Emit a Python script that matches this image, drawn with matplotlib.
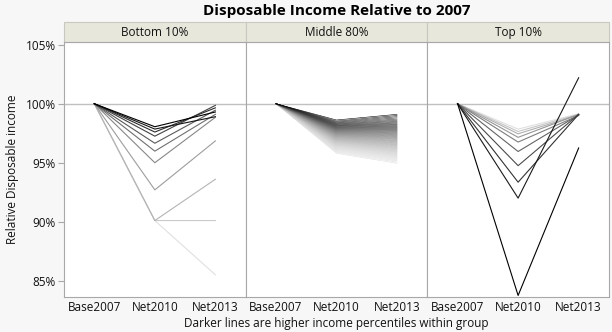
import matplotlib.pyplot as plt
import matplotlib.patches as mpatches

# categories along x in each panel
years = ['Base2007', 'Net2010', 'Net2013']
groups = ['Bottom 10%', 'Middle 80%', 'Top 10%']

# Bottom 10% (lightest -> darkest)
bottom_2010 = [90.1, 90.1, 90.1, 92.7, 95.0, 95.98, 96.65, 97.25, 97.6, 97.85, 98.05]
bottom_2013 = [85.5, 90.1, 93.6, 96.85, 98.85, 99.1, 99.45, 99.86, 99.65, 98.9, 99.3]

# Middle 80% (lightest -> darkest)
middle_2010 = [95.80, 95.88, 95.95, 96.02, 96.08, 96.14, 96.20, 96.25, 96.30, 96.35,
               96.40, 96.45, 96.49, 96.53, 96.57, 96.61, 96.65, 96.69, 96.72, 96.76,
               96.79, 96.83, 96.86, 96.89, 96.92, 96.95, 96.98, 97.01, 97.04, 97.07,
               97.10, 97.13, 97.15, 97.18, 97.21, 97.24, 97.26, 97.29, 97.32, 97.34,
               97.37, 97.40, 97.42, 97.45, 97.47, 97.50, 97.52, 97.55, 97.57, 97.60,
               97.62, 97.65, 97.67, 97.70, 97.72, 97.75, 97.77, 97.80, 97.82, 97.85,
               97.87, 97.90, 97.92, 97.95, 97.98, 98.00, 98.03, 98.06, 98.09, 98.12,
               98.15, 98.18, 98.22, 98.26, 98.30, 98.35, 98.40, 98.46, 98.53, 98.62]
middle_2013 = [94.95, 95.05, 95.14, 95.22, 95.30, 95.37, 95.44, 95.51, 95.57, 95.63,
               95.69, 95.75, 95.80, 95.86, 95.91, 95.96, 96.01, 96.06, 96.11, 96.16,
               96.20, 96.25, 96.30, 96.34, 96.39, 96.43, 96.48, 96.52, 96.56, 96.61,
               96.65, 96.69, 96.74, 96.78, 96.82, 96.86, 96.90, 96.95, 96.99, 97.03,
               97.07, 97.11, 97.15, 97.19, 97.23, 97.27, 97.31, 97.35, 97.39, 97.43,
               97.47, 97.51, 97.55, 97.59, 97.63, 97.67, 97.71, 97.75, 97.79, 97.83,
               97.87, 97.91, 97.95, 97.99, 98.03, 98.08, 98.12, 98.17, 98.22, 98.27,
               98.33, 98.39, 98.46, 98.53, 98.61, 98.70, 98.80, 98.90, 99.00, 99.10]

# Top 10% (lightest -> darkest)
top_2010 = [97.85, 97.65, 97.45, 97.15, 96.75, 95.95, 94.75, 93.35, 92.0, 83.75]
top_2013 = [99.15, 99.1, 99.05, 99.1, 99.0, 99.05, 99.1, 99.1, 102.2, 96.25]

base = 100.0
yticks = [85, 90, 95, 100, 105]

plt.rcParams['font.family'] = ['Open Sans', 'DejaVu Sans']

fig = plt.figure(figsize=(6.12, 3.32), dpi=100, facecolor='#f7f7f7')
gs = fig.add_gridspec(1, 3, left=0.1046, right=0.995, bottom=0.1054, top=0.8735, wspace=0)
axes = [fig.add_subplot(gs[0, i]) for i in range(3)]

data = [(bottom_2010, bottom_2013), (middle_2010, middle_2013), (top_2010, top_2013)]
widths = [0.8, 0.4, 0.8]
gammas = [1.0, 0.55, 1.0]
edge = '#a8a8a8'

for ax, name, (y10, y13), lw, g in zip(axes, groups, data, widths, gammas):
    n = len(y10)
    ax.axhline(100, color='#c0c0c0', lw=1, zorder=1)
    for i in range(n):
        # light gray for low percentiles, black for high ones
        shade = 0.88 * (1 - i / (n - 1)) ** g
        ax.plot([0, 1, 2], [base, y10[i], y13[i]], color=str(shade), lw=lw, zorder=2)
    ax.set_xlim(-0.5, 2.5)
    ax.set_ylim(83.62, 105.23)
    ax.set_xticks([0, 1, 2])
    ax.set_xticklabels(years, fontsize=8.5, color='#111111')
    ax.tick_params(axis='x', length=0, pad=3)
    for s in ax.spines.values():
        s.set_color(edge)
        s.set_linewidth(0.8)
    ax.set_facecolor('white')
    # header strip
    strip = mpatches.Rectangle((0, 1), 1, 0.0784, transform=ax.transAxes, clip_on=False,
                               facecolor='#e8e7dc', edgecolor='#c8c8c0', lw=0.8)
    ax.add_patch(strip)
    ax.text(0.5, 1.039, name, transform=ax.transAxes, ha='center', va='center',
            fontsize=8.5, color='#111111')

axes[0].set_yticks(yticks)
axes[0].set_yticklabels([f'{v}%' for v in yticks], fontsize=8.5, color='#111111')
axes[0].tick_params(axis='y', length=4, color=edge, pad=2)
axes[0].set_ylabel('Relative Disposable income', fontsize=8.5, color='#111111', labelpad=5)
for ax in axes[1:]:
    ax.set_yticks([])

fig.text(0.55, 0.968, 'Disposable Income Relative to 2007', ha='center', va='center',
         fontsize=11, fontweight='bold', color='#000000')
fig.text(0.55, 0.027, 'Darker lines are higher income percentiles within group',
         ha='center', va='center', fontsize=8.5, color='#111111')

fig.savefig('out.png', dpi=100, facecolor=fig.get_facecolor())
